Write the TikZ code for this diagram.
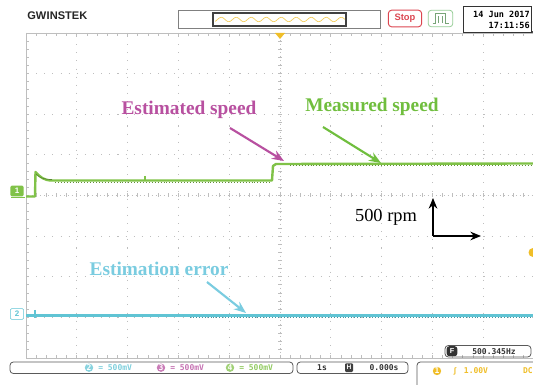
\documentclass[tikz,border=0pt]{standalone}
\usepackage{fontspec}
\setmainfont{Liberation Serif}
\newfontfamily\uisans{Liberation Sans}
\newfontfamily\uimono{DejaVu Sans Mono}
\usetikzlibrary{arrows.meta}
\definecolor{estc}{RGB}{184,80,160}
\definecolor{measc}{RGB}{112,190,62}
\definecolor{errc}{RGB}{122,204,224}
\definecolor{trg}{RGB}{128,194,72}
\definecolor{trc}{RGB}{96,196,212}
\definecolor{gridc}{RGB}{190,190,190}
\definecolor{scopey}{RGB}{240,190,40}
\definecolor{stopred}{RGB}{220,70,80}
\definecolor{btngreen}{RGB}{150,205,150}
\definecolor{uigray}{RGB}{90,90,90}
\tikzset{
  griddot/.style={draw=gridc, line width=0.7pt},
  bordertick/.style={draw=gridc, line width=0.6pt},
  label/.style={font=\fontsize{14.5}{16}\selectfont\bfseries, inner sep=0pt},
  callout/.style={line width=1.6pt, -{Stealth[length=9pt,width=7pt]}},
  uibox/.style={draw=uigray, line width=0.6pt, rounded corners=2.5pt},
  uitext/.style={font=\uimono\fontsize{6}{7}\selectfont\bfseries, inner sep=0pt},
  noise/.style={line width=0.5pt, dash pattern=on 0.6pt off 1.6pt},
}
\begin{document}
\begin{tikzpicture}[x=0.75pt,y=-0.75pt]
\useasboundingbox (0,0) rectangle (533,385);
\fill[white] (0,0) rectangle (533,385);
% ---------------- graticule ----------------
\foreach \i in {1,2,3,4,6,7,8,9}
  \draw[griddot, dash pattern=on 0.8pt off 5.3pt] ({26+\i*50.8},36) -- ({26+\i*50.8},358);
\foreach \j in {1,2,3,5,6,7}
  \draw[griddot, dash pattern=on 0.8pt off 5.3pt] (28,{33+\j*40.625}) -- (533,{33+\j*40.625});
% centre lines with ticks
\draw[griddot, dash pattern=on 0.8pt off 2.2pt] (280,36) -- (280,358);
\draw[griddot, dash pattern=on 0.8pt off 2.2pt] (28,195.5) -- (533,195.5);
\foreach \k in {1,...,39}
  \draw[bordertick] (278,{33+\k*8.125}) -- (282,{33+\k*8.125});
\foreach \k in {1,...,50}
  \draw[bordertick] ({26+\k*10.16},193.5) -- ({26+\k*10.16},197.5);
% border
\draw[bordertick] (26,33) -- (533,33);
\draw[bordertick] (26,33) -- (26,358);
\draw[bordertick] (26,358) -- (533,358);
\foreach \k in {1,...,39}
  \draw[bordertick] (26,{33+\k*8.125}) -- (29,{33+\k*8.125});
\foreach \k in {1,...,50}{
  \draw[bordertick] ({26+\k*10.16},33) -- ({26+\k*10.16},36);
  \draw[bordertick] ({26+\k*10.16},358) -- ({26+\k*10.16},355);
}
% ---------------- markers ----------------
\fill[scopey] (275,33) -- (285,33) -- (280,39) -- cycle;
\fill[scopey] (533,257) arc[start angle=90, end angle=270, radius=4.5] -- cycle;
\node[fill=trg, rounded corners=1pt, minimum width=10pt, minimum height=8pt, inner sep=0pt,
      font=\uisans\bfseries\fontsize{6}{6}\selectfont, text=white] (ch1) at (17,191) {1};
\draw[trg, line width=0.6pt] (11,197.5) -- (25,197.5);
\node[draw=trc, rounded corners=1pt, minimum width=10pt, minimum height=8pt, inner sep=0pt,
      font=\uisans\bfseries\fontsize{6}{6}\selectfont, text=trc] (ch2) at (17,314) {2};
% ---------------- traces ----------------
\draw[trg, line width=1.8pt, line join=round]
  (26,196.5) -- (35,196.5) -- (35.5,172) .. controls (40,177) and (44,180.5) .. (52,180.5)
  -- (272,180.5) -- (273,166) -- (276,164) -- (533,163.5);
\draw[trg!70!black, line width=0.5pt] (36,174) .. controls (40,178) and (44,179.5) .. (52,179.5);
\draw[trg!75!black, noise] (55,182.3) -- (270,182.3);
\draw[trg!75!black, noise] (290,165.3) -- (533,165.3);
\draw[trg, line width=0.8pt] (145,176) -- (145,180);
\draw[trc, line width=1.8pt] (26,315.5) -- (533,315.5);
\draw[trc!75!black, noise] (190,317.2) -- (533,317.2);
\draw[trc, line width=0.8pt] (35,310) -- (35,318);
% ---------------- labels and callouts ----------------
\node[label, text=estc, anchor=base] (est) at (189,115) {Estimated speed};
\node[label, text=measc, anchor=base] (meas) at (372,112) {Measured speed};
\node[label, text=errc, anchor=base] (err) at (159,276) {Estimation error};
\coordinate (estTail) at (230,128);
\coordinate (estTip) at (284,161);
\coordinate (measTail) at (323,127);
\coordinate (measTip) at (381,163);
\coordinate (errTail) at (207,282);
\coordinate (errTip) at (246,313);
\draw[callout, estc] (estTail) -- (estTip);
\draw[callout, measc] (measTail) -- (measTip);
\draw[callout, errc] (errTail) -- (errTip);
% scale arrows
\node[font=\fontsize{13.8}{15}\selectfont, inner sep=0pt, anchor=base] (rpm) at (386,222) {500 rpm};
\coordinate (corner) at (433,236);
\coordinate (upEnd) at (433,198);
\coordinate (rightEnd) at (481,236);
\draw[line width=1.1pt, -{Stealth[length=8pt,width=6.5pt]}] (corner) -- (upEnd);
\draw[line width=1.1pt, -{Stealth[length=8pt,width=6.5pt]}] (corner) -- (rightEnd);
% ---------------- top bar ----------------
\node[font=\uisans\bfseries\fontsize{8.3}{9}\selectfont, inner sep=0pt, anchor=west, text=black!85] (logo) at (27,16) {GW\hspace{0.3pt}INSTEK};
\node[draw=gray, line width=0.6pt, minimum width=152pt, minimum height=13pt, inner sep=0pt] (mem) at (279.5,19.5) {};
\node[draw=black!75, line width=1.5pt, minimum width=100pt, minimum height=9.5pt, inner sep=0pt] (memwin) at (279.5,19.5) {};
\draw[scopey!80!white, line width=0.5pt, domain=215:345, samples=120] plot (\x,{19.5+2.2*sin(\x*24)});
\node[draw=stopred, line width=0.7pt, rounded corners=2.5pt, minimum width=25pt, minimum height=12.5pt, inner sep=0pt,
      font=\uisans\bfseries\fontsize{7}{8}\selectfont, text=stopred] (stop) at (405,18.5) {Stop};
\node[draw=btngreen, line width=0.6pt, rounded corners=2.5pt, minimum width=18.5pt, minimum height=12.5pt, inner sep=0pt] (run) at (440.5,18.5) {};
\draw[btngreen!80!black, line width=0.6pt] ([xshift=-6pt,yshift=-3.5pt]run.center) -- ++(2.5pt,0) -- ++(0,7pt) -- ++(7pt,0) -- ++(0,-7pt) -- ++(2.5pt,0);
\draw[btngreen!80!black, line width=0.5pt] ([xshift=-1.5pt,yshift=-3.5pt]run.center) -- ++(0,5pt) ([xshift=1.5pt,yshift=-3.5pt]run.center) -- ++(0,5pt);
\fill[black!70] (465,31) rectangle (533,33);
\node[draw=black!80, line width=0.7pt, fill=white, minimum width=51pt, minimum height=19pt, inner sep=0pt] (datebox) at (497.5,19.5) {};
\node[uitext, font=\uimono\fontsize{6.4}{7}\selectfont\bfseries, anchor=east] (date) at (530,14) {14 Jun 2017};
\node[uitext, font=\uimono\fontsize{6.4}{7}\selectfont\bfseries, anchor=east] (time) at (530,25) {17:11:56};
% ---------------- bottom bar ----------------
\draw[uibox] (10,362) rectangle (293,373.5);
\foreach \cx/\col in {89/trc, 161/estc, 230/trg}{
  \fill[\col!75] (\cx,367.7) circle[radius=4.2];
}
\node[uitext, text=white] (c2) at (89,367.7) {2};
\node[uitext, text=white] (c3) at (161,367.7) {3};
\node[uitext, text=white] (c4) at (230,367.7) {4};
\node[uitext, text=trc!80, anchor=west] (v2) at (98,367.7) {= 500mV};
\node[uitext, text=estc!80, anchor=west] (v3) at (170,367.7) {= 500mV};
\node[uitext, text=trg!85, anchor=west] (v4) at (239,367.7) {= 500mV};
\draw[uibox] (297,362) rectangle (408,373.5);
\node[uitext, text=black!80] (tb) at (322,367.7) {1s};
\node[fill=black!75, minimum width=6pt, minimum height=6.5pt, inner sep=0pt, rounded corners=0.8pt,
      font=\uisans\bfseries\fontsize{5}{5}\selectfont, text=white] (hpos) at (349,367.7) {H};
\node[uitext, text=black!80] (pos) at (384,367.7) {0.000s};
\draw[uibox] (445,345.5) rectangle (531,357);
\node[fill=black!80, minimum width=8pt, minimum height=7.5pt, inner sep=0pt, rounded corners=2pt,
      font=\uisans\bfseries\fontsize{5.5}{5}\selectfont, text=white] (ficon) at (452,351.2) {F};
\node[uitext, text=black!80] (freq) at (494,351.2) {500.345Hz};
\draw[uigray, line width=0.6pt, rounded corners=2.5pt] (417,385) -- (417,362) -- (533,362);
\fill[scopey] (437,371) circle[radius=4.2];
\node[uitext, text=white] (c1) at (437,371) {1};
\node[uitext, text=scopey] (cpl) at (455,371) {\uisans ʃ};
\node[uitext, text=scopey] (v1) at (476,371) {1.00V};
\node[uitext, text=scopey, anchor=east] (dc) at (533,371) {DC};
\end{tikzpicture}
\end{document}
